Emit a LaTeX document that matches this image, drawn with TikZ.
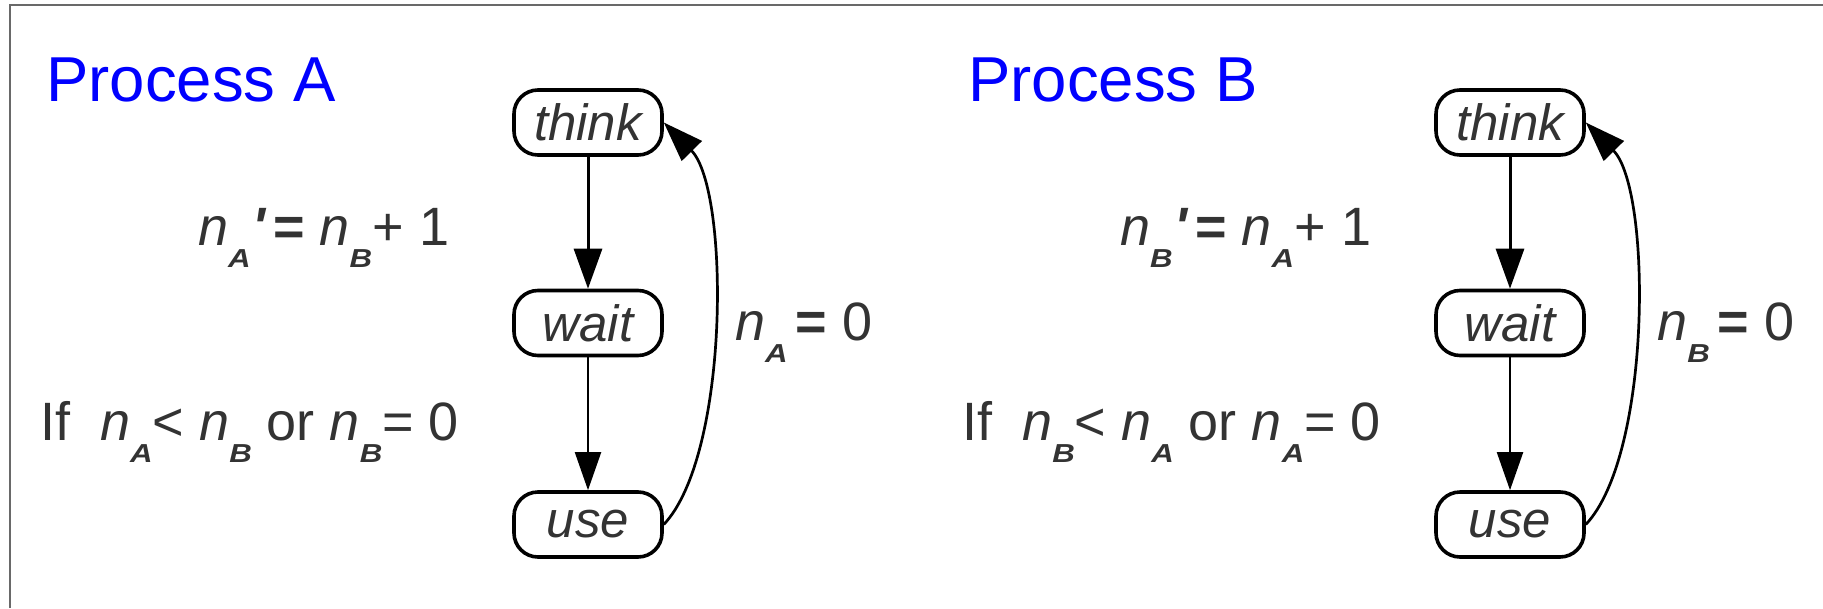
\documentclass[tikz,border=0pt]{standalone}
\usepackage{fontspec}
\setmainfont{Liberation Sans}
\usetikzlibrary{arrows.meta}
\definecolor{txtgray}{RGB}{51,51,51}
\definecolor{framegray}{RGB}{105,105,105}
% n with a lowered bold index
\newcommand{\idx}[1]{\raisebox{-22pt}{\scalebox{1.2}[1]{\fontsize{26}{26}\selectfont\bfseries\itshape #1}}}
\newcommand{\nv}[1]{\textit{n}\idx{#1}}

\begin{document}
\begin{tikzpicture}[
  x=1pt, y=-1pt,
  >={Triangle[length=40pt, width=28pt]},
  every node/.style={font=\fontsize{54}{60}\selectfont, text=txtgray},
  state/.style = {draw=black, line width=3.6pt, rounded corners=24pt, minimum width=148pt,
                  minimum height=65pt, inner sep=0pt, font=\fontsize{51}{60}\selectfont\itshape},
  lbl/.style   = {anchor=base west, inner sep=0pt},
  title/.style = {lbl, text=blue, font=\fontsize{63.5}{70}\selectfont},
  arr/.style   = {->, line width=3pt},
]
  \useasboundingbox (0,0) rectangle (1823,608);
  \draw[framegray, line width=1.6pt] (10,608) -- (10,5) -- (1823,5);

  % one state column per process, B shifted to the right
  \foreach \p/\q/\dx in {A/B/0, B/A/922} {
    \node[title] (title\p) at (46+\dx,101) {Process \p};
    \node[state] (think\p) at (588+\dx,122.5) {think};
    \node[state] (wait\p)  at (588+\dx,323)   {wait};
    \node[state] (use\p)   at (588+\dx,524.5) {use};
    \node[lbl] (ticket\p) at (198+\dx,245)
      {\nv{\p}\hspace{2pt}\textbf{\textit{\textquotesingle}}\hspace{6pt}\textbf{=} \nv{\q}+\hspace{16pt}1};
    \node[lbl] (guard\p)  at (40+\dx,440)  {If\ \ \nv{\p}< \nv{\q} or \nv{\q}= 0};
    \node[lbl] (reset\p)  at (735+\dx,340) {\nv{\p}\hspace{8pt}\textbf{=} 0};
    \draw[arr] (think\p) -- (wait\p);
    \draw[arr, line width=2pt, >={Triangle[length=38pt, width=26pt]}] (wait\p) -- (use\p);
    \draw[arr, line width=2.7pt] (use\p.east) .. controls +(66,-70) and +(66,67) .. (think\p.east);
  }
\end{tikzpicture}
\end{document}
